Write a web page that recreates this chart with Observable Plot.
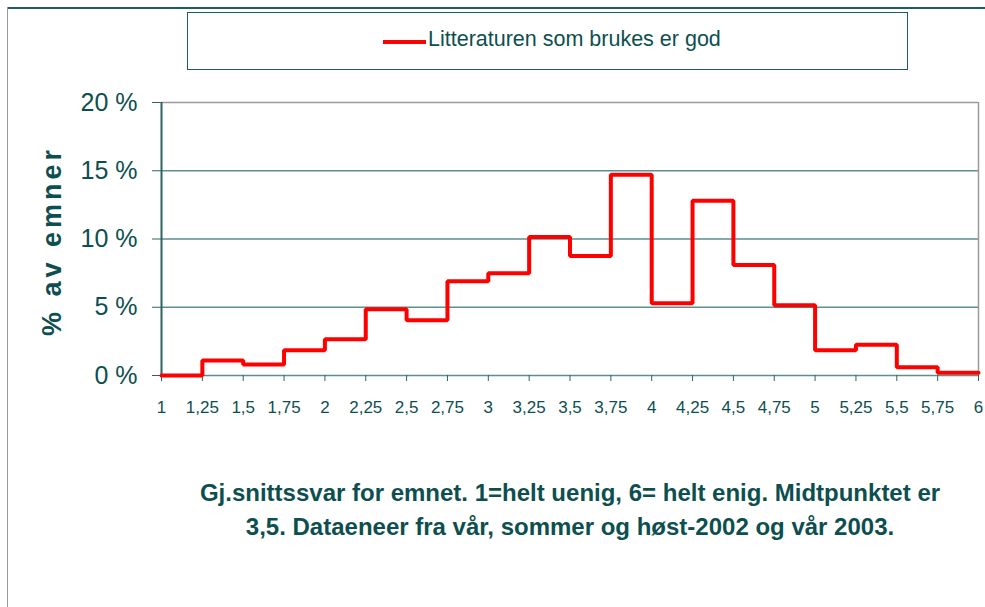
<!DOCTYPE html>
<html>
<head>
<meta charset="utf-8">
<script src="https://cdn.jsdelivr.net/npm/d3@7"></script>
<script src="https://cdn.jsdelivr.net/npm/@observablehq/plot@0.6"></script>
<style>
  html, body { margin: 0; padding: 0; background: #fff; }
  #wrap { position: relative; width: 985px; height: 607px; overflow: hidden; font-family: "Liberation Sans", Arial, sans-serif; color: #0d4f4f; }
  #frameTop { position: absolute; left: 7px; top: 7px; width: 978px; height: 0; border-top: 2px solid #1f5c5c; }
  #frameLeft { position: absolute; left: 7px; top: 7px; width: 0; height: 600px; border-left: 1px solid #9a9a9a; }
  #legend { position: absolute; left: 187px; top: 12px; width: 721px; height: 58px; border: 1.5px solid #1f5c5c; box-sizing: border-box; background: #fff; }
  #legend .sw { position: absolute; left: 195px; top: 27px; width: 43px; height: 4px; background: #ff0000; }
  #legend .lab { position: absolute; left: 240px; top: 13px; font-size: 21.5px; line-height: 26px; white-space: nowrap; }
  #ylab { position: absolute; left: 52px; top: 241px; transform: translate(-50%, -50%) rotate(-90deg); font-weight: bold; font-size: 27px; letter-spacing: 4px; white-space: nowrap; }
  #xlab { position: absolute; left: 120px; top: 476px; width: 900px; text-align: center; font-weight: bold; font-size: 24px; line-height: 34px; white-space: nowrap; }
  #chart { position: absolute; left: 0; top: 0; }
</style>
</head>
<body>
<div id="wrap">
  <div id="chart"></div>
  <div id="frameTop"></div>
  <div id="frameLeft"></div>
  <div id="legend"><div class="sw"></div><div class="lab" id="seriesName"></div></div>
  <div id="ylab"></div>
  <div id="xlab"></div>
</div>
<script>
// Bin edges (x tick values) on the 1–6 answer scale
const binEdges = [1, 1.25, 1.5, 1.75, 2, 2.25, 2.5, 2.75, 3, 3.25, 3.5, 3.75, 4, 4.25, 4.5, 4.75, 5, 5.25, 5.5, 5.75, 6];
// Share of courses (%) per bin
const shares = [0, 1.1, 0.8, 1.85, 2.65, 4.85, 4.05, 6.9, 7.5, 10.15, 8.75, 14.7, 5.3, 12.8, 8.1, 5.15, 1.85, 2.25, 0.6, 0.2];
const yTicks = [0, 5, 10, 15, 20];
const seriesName = "Litteraturen som brukes er god";
const yTitle = "% av emner";
const xTitleLines = [
  "Gj.snittssvar for emnet. 1=helt uenig, 6= helt enig. Midtpunktet er",
  "3,5. Dataeneer fra vår, sommer og høst-2002 og vår 2003."
];

// Step data: each bin starts at its edge; the last value is held to the final edge
const data = binEdges.map((x, i) => ({x, y: i < shares.length ? shares[i] : shares[shares.length - 1]}));

document.getElementById("seriesName").textContent = seriesName;
document.getElementById("ylab").textContent = yTitle;
document.getElementById("xlab").innerHTML = xTitleLines.join("<br>");

const teal = "#0d4f4f";
const chart = Plot.plot({
  width: 985,
  height: 607,
  marginLeft: 161,
  marginRight: 7,
  marginTop: 102,
  marginBottom: 232,
  style: {color: teal, background: "transparent", fontFamily: "'Liberation Sans', Arial, sans-serif"},
  x: {domain: [1, 6]},
  y: {domain: [0, 20]},
  marks: [
    Plot.ruleY([5, 10, 15], {stroke: "#5e8e8e", strokeWidth: 1.5}),
    Plot.ruleY([20], {stroke: "#9a9a9a", strokeWidth: 1.5}),
    Plot.ruleX([6], {stroke: "#9a9a9a", strokeWidth: 1.5}),
    Plot.ruleY([0], {stroke: "#5e8e8e", strokeWidth: 1.5}),
    Plot.ruleX([1], {stroke: "#2f6262", strokeWidth: 2}),
    Plot.axisX({
      ticks: binEdges,
      tickFormat: d => String(d).replace(".", ","),
      tickSize: 6,
      tickPadding: 19,
      fontSize: 17,
      stroke: "#2f6262",
      label: null
    }),
    Plot.axisY({
      ticks: yTicks,
      tickFormat: d => d + " %",
      tickSize: 9,
      tickPadding: 15,
      fontSize: 25,
      stroke: "#2f6262",
      label: null
    }),
    Plot.line(data, {x: "x", y: "y", curve: "step-after", stroke: "#ff0000", strokeWidth: 4, strokeLinejoin: "miter"})
  ]
});
document.getElementById("chart").appendChild(chart);
</script>
</body>
</html>
